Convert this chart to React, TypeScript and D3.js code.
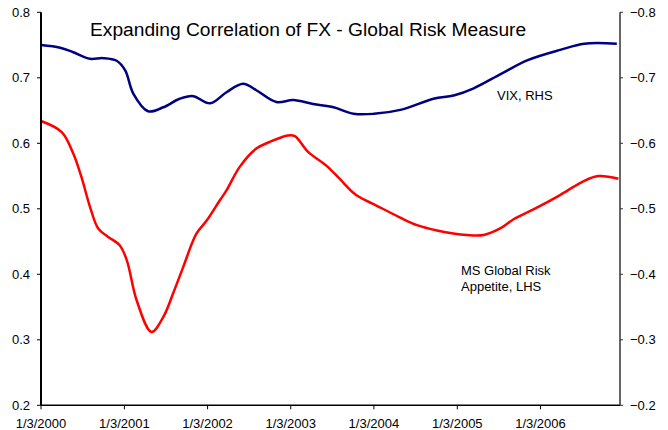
import React from "react";
import * as d3 from "d3";

const TITLE = "Expanding Correlation of FX - Global Risk Measure";

const riskDates = [
  "2000-01-03", "2000-04-03", "2000-05-24", "2000-06-28", "2000-08-05", "2000-09-10",
  "2000-10-24", "2000-12-14", "2001-01-14", "2001-02-26", "2001-05-02", "2001-06-23",
  "2001-08-05", "2001-09-18", "2001-11-15", "2001-12-30", "2002-02-26", "2002-03-27",
  "2002-05-24", "2002-08-05", "2002-10-02", "2002-12-21", "2003-01-21", "2003-03-20",
  "2003-06-08", "2003-08-05", "2003-10-17", "2004-01-14", "2004-04-25", "2004-07-10",
  "2004-10-06", "2005-02-15", "2005-04-29", "2005-07-10", "2005-09-07", "2005-12-03",
  "2006-03-30", "2006-07-10", "2006-09-14", "2006-12-11",
];
const riskValues = [
  0.634, 0.617, 0.584, 0.549, 0.503, 0.47,
  0.457, 0.444, 0.421, 0.36, 0.312, 0.335,
  0.371, 0.411, 0.462, 0.482, 0.513, 0.528,
  0.564, 0.592, 0.602, 0.612, 0.611, 0.587,
  0.566, 0.546, 0.521, 0.505, 0.487, 0.475,
  0.467, 0.46, 0.46, 0.47, 0.484, 0.499,
  0.521, 0.542, 0.55, 0.546,
];

const vixDates = [
  "2000-01-03", "2000-03-27", "2000-05-24", "2000-08-05", "2000-10-02", "2000-11-30",
  "2001-01-07", "2001-02-11", "2001-04-17", "2001-06-23", "2001-09-03", "2001-11-01",
  "2002-01-14", "2002-03-27", "2002-06-08", "2002-08-05", "2002-11-01", "2003-01-14",
  "2003-04-11", "2003-07-10", "2003-10-06", "2004-01-03", "2004-04-28", "2004-09-21",
  "2004-12-18", "2005-03-16", "2005-07-14", "2005-11-08", "2006-04-03", "2006-07-14",
  "2006-12-04",
];
const vixValues = [
  -0.75, -0.746, -0.739, -0.729, -0.73, -0.726,
  -0.711, -0.676, -0.649, -0.655, -0.668, -0.672,
  -0.661, -0.678, -0.691, -0.681, -0.663, -0.666,
  -0.66, -0.655, -0.645, -0.645, -0.651, -0.668,
  -0.673, -0.684, -0.706, -0.727, -0.743, -0.752,
  -0.752,
];

const xTickDates = ["2000-01-03", "2001-01-03", "2002-01-03", "2003-01-03", "2004-01-03", "2005-01-03", "2006-01-03"];
const xTickLabels = ["1/3/2000", "1/3/2001", "1/3/2002", "1/3/2003", "1/3/2004", "1/3/2005", "1/3/2006"];
const leftTicks = [0.2, 0.3, 0.4, 0.5, 0.6, 0.7, 0.8];
const rightTicks = [-0.2, -0.3, -0.4, -0.5, -0.6, -0.7, -0.8];

const parse = d3.timeParse("%Y-%m-%d");

export default function App() {
  const W = 668, H = 430;
  const left = 41, right = 620, top = 12.3, bottom = 405.3;
  const x = d3.scaleTime()
    .domain([parse("2000-01-03")!, parse("2006-12-18")!])
    .range([left, right]);
  const yL = d3.scaleLinear().domain([0.2, 0.8]).range([bottom, top]);
  const yR = d3.scaleLinear().domain([-0.2, -0.8]).range([bottom, top]);

  const riskData = riskDates.map((d, i) => [parse(d)!, riskValues[i]] as [Date, number]);
  const vixData = vixDates.map((d, i) => [parse(d)!, vixValues[i]] as [Date, number]);

  const lineL = d3.line<[Date, number]>().x(d => x(d[0])).y(d => yL(d[1])).curve(d3.curveCatmullRom.alpha(0.5));
  const lineR = d3.line<[Date, number]>().x(d => x(d[0])).y(d => yR(d[1])).curve(d3.curveCatmullRom.alpha(0.5));

  const font = "'Liberation Sans', Arial, sans-serif";
  const fmt = d3.format(".1f");

  return (
    <svg width={W} height={H} style={{ position: "absolute", left: 0, top: 0, background: "#fff" }} fontFamily={font}>
      <rect x={0} y={0} width={W} height={H} fill="#fff" />
      <path d={lineR(vixData) || ""} fill="none" stroke="#000080" strokeWidth={2.5} />
      <path d={lineL(riskData) || ""} fill="none" stroke="#ff0000" strokeWidth={2.5} />

      {/* bottom axis */}
      <line x1={left} x2={right} y1={bottom} y2={bottom} stroke="#000" strokeWidth={1.5} />
      {xTickDates.map((d, i) => {
        const xx = x(parse(d)!);
        return (
          <g key={d}>
            <line x1={xx} x2={xx} y1={bottom} y2={bottom + 4} stroke="#000" strokeWidth={1} />
            <text x={xx} y={428} textAnchor="middle" fontSize={13} fill="#000">{xTickLabels[i]}</text>
          </g>
        );
      })}

      {/* left axis */}
      <line x1={left} x2={left} y1={top} y2={bottom} stroke="#000" strokeWidth={2} />
      {leftTicks.map(t => (
        <g key={t}>
          <line x1={left - 4} x2={left} y1={yL(t)} y2={yL(t)} stroke="#000" strokeWidth={1} />
          <text x={30} y={yL(t)} dy="0.35em" textAnchor="end" fontSize={13} fill="#000">{fmt(t)}</text>
        </g>
      ))}

      {/* right axis */}
      <line x1={right} x2={right} y1={top} y2={bottom} stroke="#333" strokeWidth={1.5} />
      {rightTicks.map(t => (
        <g key={t}>
          <line x1={right} x2={right + 3} y1={yR(t)} y2={yR(t)} stroke="#333" strokeWidth={1} />
          <text x={630} y={yR(t)} dy="0.35em" textAnchor="start" fontSize={13} fill="#000">{fmt(t)}</text>
        </g>
      ))}

      <text x={90} y={36} fontSize={19.2} fill="#000">{TITLE}</text>
      <text x={497} y={100} fontSize={13} fill="#000">VIX, RHS</text>
      <text x={461} y={275} fontSize={13} fill="#000">MS Global Risk</text>
      <text x={461} y={291} fontSize={13} fill="#000">Appetite, LHS</text>
    </svg>
  );
}
